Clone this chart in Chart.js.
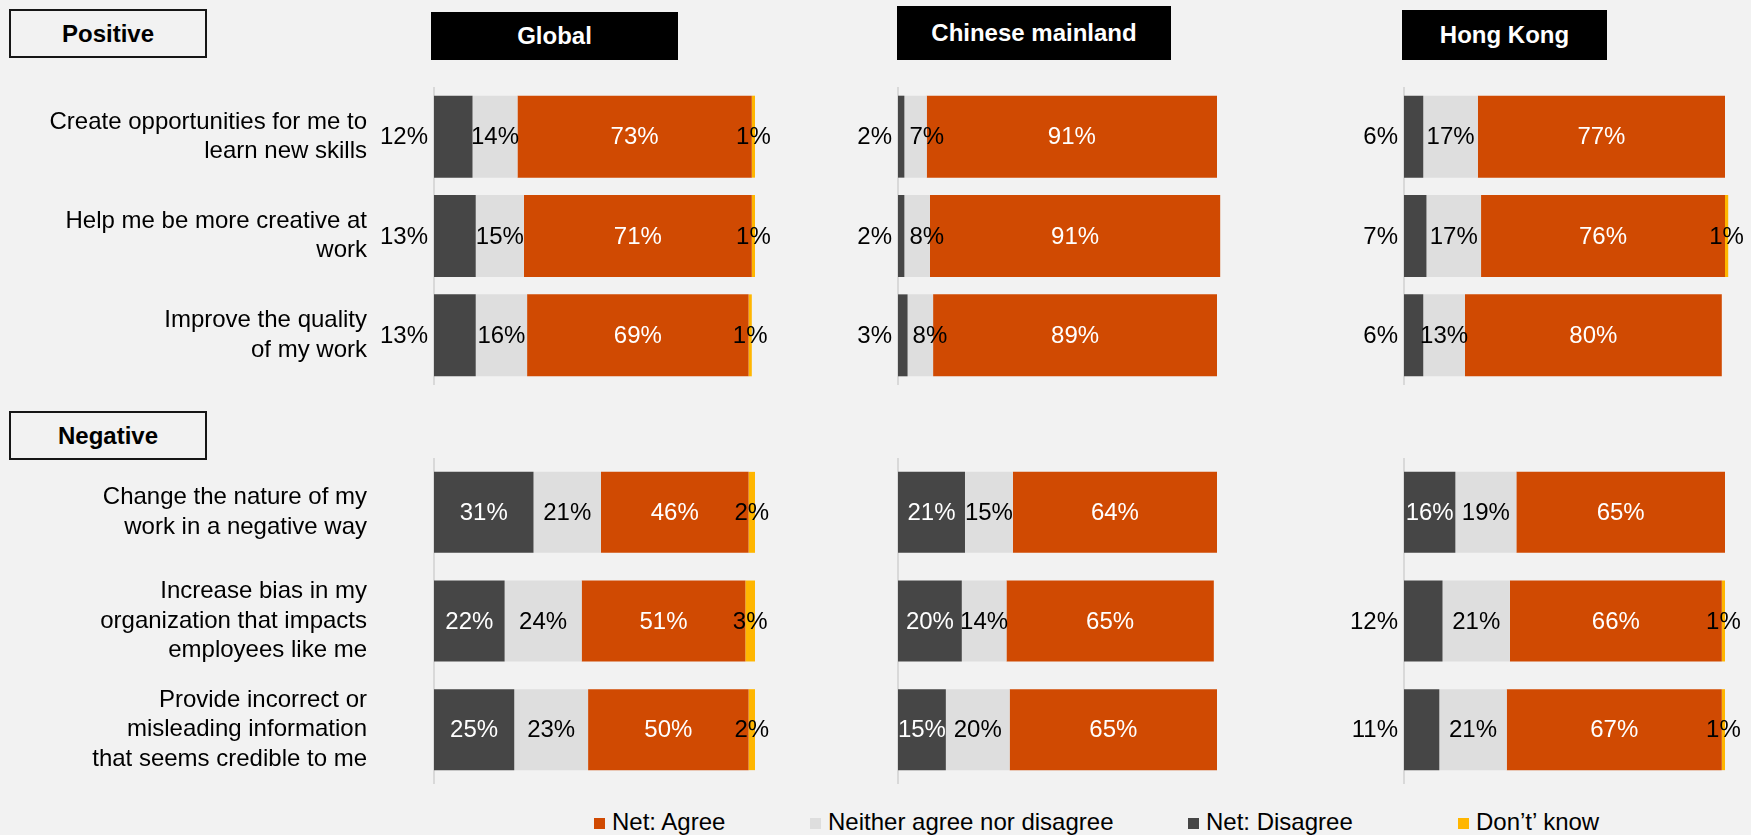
<!DOCTYPE html>
<html>
<head>
<meta charset="utf-8">
<script src="https://cdn.jsdelivr.net/npm/chart.js@4.4.1/dist/chart.umd.min.js"></script>
<style>
  html, body { margin: 0; padding: 0; background: #f2f2f2; }
  body { width: 1751px; height: 835px; position: relative; overflow: hidden;
         font-family: "Liberation Sans", Arial, sans-serif; color: #000; }
  .box { position: absolute; box-sizing: border-box; display: flex; align-items: center;
         justify-content: center; font-weight: bold; font-size: 24px; }
  .section { border: 2px solid #161616; left: 9px; width: 198px; height: 49px; }
  .panel { background: #000; color: #fff; }
  canvas { position: absolute; }
  .legend-item { position: absolute; top: 808px; height: 28px; display: flex; align-items: center;
                 font-size: 24px; white-space: nowrap; }
  .legend-item span.mark { width: 11px; height: 11px; margin-right: 7px; margin-top: 3px; }
</style>
</head>
<body>
<div class="box section" style="top:9px">Positive</div>
<div class="box section" style="top:411px">Negative</div>
<div class="box panel" style="left:431px;top:12px;width:247px;height:48px">Global</div>
<div class="box panel" style="left:897px;top:6px;width:274px;height:54px">Chinese mainland</div>
<div class="box panel" style="left:1402px;top:10px;width:205px;height:50px">Hong Kong</div>

<script>
// statements: first three are "Positive", last three "Negative"
const statements = [
  ["Create opportunities for me to", "learn new skills"],
  ["Help me be more creative at", "work"],
  ["Improve the quality", "of my work"],
  ["Change the nature of my", "work in a negative way"],
  ["Increase bias in my", "organization that impacts", "employees like me"],
  ["Provide incorrect or", "misleading information", "that seems credible to me"]
];

// % values per statement, in the order above
const globalDisagree = [12, 13, 13, 31, 22, 25];
const globalNeither  = [14, 15, 16, 21, 24, 23];
const globalAgree    = [73, 71, 69, 46, 51, 50];
const globalDontKnow = [1, 1, 1, 2, 3, 2];

const mainlandDisagree = [2, 2, 3, 21, 20, 15];
const mainlandNeither  = [7, 8, 8, 15, 14, 20];
const mainlandAgree    = [91, 91, 89, 64, 65, 65];
const mainlandDontKnow = [0, 0, 0, 0, 0, 0];

const hkDisagree = [6, 7, 6, 16, 12, 11];
const hkNeither  = [17, 17, 13, 19, 21, 21];
const hkAgree    = [77, 76, 80, 65, 66, 67];
const hkDontKnow = [0, 1, 0, 0, 1, 1];

const series = [
  { role: "disagree", name: "Net: Disagree", color: "#464646", label: "#fff" },
  { role: "neither", name: "Neither agree nor disagree", color: "#dedede", label: "#000" },
  { role: "agree", name: "Net: Agree", color: "#d04a02", label: "#fff" },
  { role: "dontknow", name: "Don\u2019t\u2019 know", color: "#ffb600", label: "#000" }
];
const legendOrder = ["agree", "neither", "disagree", "dontknow"];

const FONT = '"Liberation Sans", Arial, sans-serif';

const panels = [
  { values: [globalDisagree, globalNeither, globalAgree, globalDontKnow], left: 434, width: 321, leftSpace: 434, ticks: true },
  { values: [mainlandDisagree, mainlandNeither, mainlandAgree, mainlandDontKnow], left: 898, width: 319, leftSpace: 60, ticks: false },
  { values: [hkDisagree, hkNeither, hkAgree, hkDontKnow], left: 1404, width: 321, leftSpace: 60, ticks: false }
];
const sections = [
  { from: 0, to: 3, top: 87, height: 298, bar: 0.825 },
  { from: 3, to: 6, top: 458, height: 326, bar: 0.745 }
];
const RIGHT_PAD = 40;

const valueLabels = {
  id: "valueLabels",
  afterDatasetsDraw(chart) {
    const ctx = chart.ctx;
    ctx.save();
    ctx.font = "24px " + FONT;
    ctx.textBaseline = "middle";
    chart.data.datasets.forEach((ds, di) => {
      chart.getDatasetMeta(di).data.forEach((bar, i) => {
        const v = ds.data[i];
        if (!v) return;
        const text = v + "%";
        const w = ctx.measureText(text).width;
        const left = Math.min(bar.base, bar.x), right = Math.max(bar.base, bar.x);
        let x = (left + right) / 2, align = "center", color = ds.labelColor;
        if (ds.role === "disagree" && v < 14) {
          x = left - 6; align = "right"; color = "#000";
        } else if (ds.role === "neither" && w > (right - left) * 1.25) {
          x = left + 5; align = "left";
        }
        ctx.fillStyle = color;
        ctx.textAlign = align;
        ctx.fillText(text, x, bar.y + 1);
      });
    });
    ctx.restore();
  }
};

panels.forEach(p => {
  sections.forEach(s => {
    const canvas = document.createElement("canvas");
    const w = p.leftSpace + p.width + RIGHT_PAD;
    canvas.width = w;
    canvas.height = s.height;
    canvas.style.left = (p.left - p.leftSpace) + "px";
    canvas.style.top = s.top + "px";
    canvas.style.width = w + "px";
    canvas.style.height = s.height + "px";
    document.body.appendChild(canvas);

    new Chart(canvas, {
      type: "bar",
      data: {
        labels: statements.slice(s.from, s.to),
        datasets: series.map((sr, k) => ({
          label: sr.name,
          role: sr.role,
          labelColor: sr.label,
          data: p.values[k].slice(s.from, s.to),
          backgroundColor: sr.color,
          borderWidth: 0,
          barPercentage: s.bar,
          categoryPercentage: 1,
          clip: false
        }))
      },
      options: {
        indexAxis: "y",
        responsive: false,
        animation: false,
        layout: { padding: { left: 0, right: RIGHT_PAD, top: 0, bottom: 0 } },
        plugins: { legend: { display: false }, tooltip: { enabled: false } },
        scales: {
          x: { stacked: true, display: false, min: 0, max: 100 },
          y: {
            stacked: true,
            afterFit(scale) {
              scale.width = p.leftSpace;
              scale.paddingTop = 0;
              scale.paddingBottom = 0;
              scale.paddingLeft = 0;
              scale.paddingRight = 0;
            },
            grid: { display: false, drawTicks: false, tickLength: 0 },
            border: { display: true, color: "#d9d9d9", width: 2 },
            ticks: {
              display: p.ticks,
              padding: 67,
              color: "#000",
              font: { size: 24, family: FONT, lineHeight: 1.22 }
            }
          }
        }
      },
      plugins: [valueLabels]
    });
  });
});

// legend, in the reference order
const legendLefts = [594, 810, 1188, 1458];
legendOrder.forEach((role, i) => {
  const sr = series.find(x => x.role === role);
  const item = document.createElement("div");
  item.className = "legend-item";
  item.style.left = legendLefts[i] + "px";
  const mark = document.createElement("span");
  mark.className = "mark";
  mark.style.background = sr.color;
  item.appendChild(mark);
  item.appendChild(document.createTextNode(sr.name));
  document.body.appendChild(item);
});
</script>
</body>
</html>
